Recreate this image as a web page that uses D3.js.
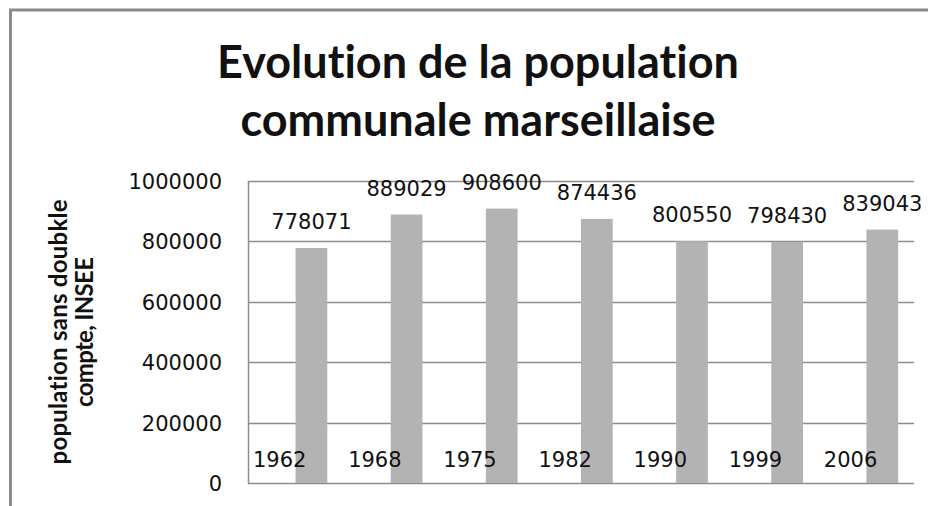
<!DOCTYPE html>
<html>
<head>
<meta charset="utf-8">
<script src="https://cdn.jsdelivr.net/npm/d3@7"></script>
<style>
  body { margin: 0; background: #fff; }
  text { font-family: "DejaVu Sans", sans-serif; fill: #111; }
  .title, .ylab {
    font-family: Lato, "Open Sans", sans-serif;
    font-weight: bold;
    font-variant-ligatures: none;
    font-feature-settings: "liga" 0;
  }
</style>
</head>
<body>
<div id="chart"></div>
<script>
var width = 928
var height = 506

// recensements INSEE
var annees = ['1962', '1968', '1975', '1982', '1990', '1999', '2006']
var population = [778071, 889029, 908600, 874436, 800550, 798430, 839043]
var yTicks = [0, 200000, 400000, 600000, 800000, 1000000]

var titre = ['Evolution de la population', 'communale marseillaise']
var yTitre = ['population sans doubkle', 'compte, INSEE']

var margin = {top: 181, right: 14, bottom: 23, left: 248}

var svg = d3.select('#chart')
            .append('svg')
            .attr('width', width)
            .attr('height', height)

// cadre gris autour du graphique
svg.append('path')
  .attr('d', 'M10.5,506 L10.5,10 L928,10')
  .attr('fill', 'none')
  .attr('stroke', '#8a8a8a')
  .attr('stroke-width', 3)

var x = d3.scaleBand()
    .domain(annees)
    .range([margin.left, width - margin.right])
    .paddingInner(0)
    .paddingOuter(0)

// deux emplacements par annee : etiquette annee puis barre population
var xs = d3.scaleBand()
    .domain(['annee', 'pop'])
    .range([0, x.bandwidth()])
    .paddingInner(0)
    .paddingOuter(0.5)

var y = d3.scaleLinear()
    .domain([0, 1000000])
    .range([height - margin.bottom, margin.top])

// grille horizontale
svg.append('g')
  .selectAll('line')
  .data(yTicks)
  .enter().append('line')
    .attr('x1', margin.left)
    .attr('x2', width - margin.right)
    .attr('y1', function(d) { return Math.round(y(d)) + 0.5 })
    .attr('y2', function(d) { return Math.round(y(d)) + 0.5 })
    .attr('stroke', '#8c8c8c')
    .attr('stroke-width', 1.5)

// bord gauche de la zone de trace
svg.append('line')
  .attr('x1', margin.left + 0.5)
  .attr('x2', margin.left + 0.5)
  .attr('y1', y(1000000))
  .attr('y2', y(0))
  .attr('stroke', '#8c8c8c')
  .attr('stroke-width', 1.5)

var yAxis = svg.append('g')
  .attr('transform', 'translate(' + (margin.left - 26) + ',0)')
  .call(d3.axisLeft(y).tickValues(yTicks).tickSize(0).tickPadding(0).tickFormat(d3.format('d')))
yAxis.select('.domain').remove()
yAxis.selectAll('text')
  .attr('font-size', 21)
  .attr('font-family', '"DejaVu Sans", sans-serif')
  .attr('fill', '#111')
  .attr('dy', '0.36em')

// barres
svg.append('g')
  .selectAll('rect')
  .data(population)
  .enter().append('rect')
    .attr('x', function(d, i) { return x(annees[i]) + xs('pop') })
    .attr('y', function(d) { return y(d) })
    .attr('width', xs.bandwidth())
    .attr('height', function(d) { return y(0) - y(d) })
    .attr('fill', '#b3b3b3')

// valeurs au-dessus des barres
svg.append('g')
  .selectAll('text')
  .data(population)
  .enter().append('text')
    .attr('x', function(d, i) { return x(annees[i]) + xs('pop') + xs.bandwidth() / 2 })
    .attr('y', function(d) { return y(d) - 19 })
    .attr('text-anchor', 'middle')
    .attr('font-size', 21)
    .text(function(d) { return d })

// annees en bas
svg.append('g')
  .selectAll('text')
  .data(annees)
  .enter().append('text')
    .attr('x', function(d) { return x(d) + xs('annee') + xs.bandwidth() / 2 })
    .attr('y', y(0) - 16)
    .attr('text-anchor', 'middle')
    .attr('font-size', 21)
    .text(function(d) { return d })

// titre
svg.append('g')
  .selectAll('text')
  .data(titre)
  .enter().append('text')
    .attr('class', 'title')
    .attr('x', 478)
    .attr('y', function(d, i) { return 78 + i * 58 })
    .attr('text-anchor', 'middle')
    .attr('font-size', 45)
    .text(function(d) { return d })

// titre axe y
var yTitreLong = [265, 150]
svg.append('g')
  .attr('transform', 'translate(0,' + ((y(0) + y(1000000)) / 2) + ') rotate(-90)')
  .selectAll('text')
  .data(yTitre)
  .enter().append('text')
    .attr('class', 'ylab')
    .attr('x', 0)
    .attr('y', function(d, i) { return 67 + i * 26 })
    .attr('text-anchor', 'middle')
    .attr('font-size', 24)
    .attr('textLength', function(d, i) { return yTitreLong[i] })
    .attr('lengthAdjust', 'spacing')
    .text(function(d) { return d })
</script>
</body>
</html>
